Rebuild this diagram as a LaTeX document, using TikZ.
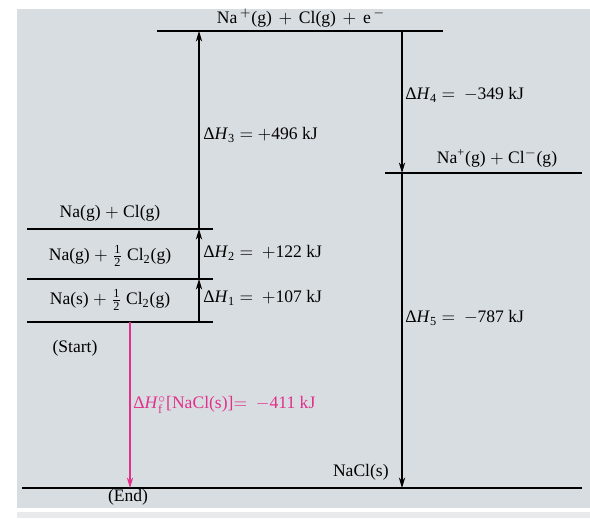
\documentclass[tikz,border=0pt]{standalone}
\usepackage{fontspec}
\setmainfont{Liberation Serif}
\usetikzlibrary{arrows.meta}
\definecolor{panelgray}{RGB}{216,221,226}
\definecolor{stripgray}{RGB}{233,234,236}
\definecolor{pinkline}{RGB}{226,48,138}
\newcommand{\dH}[1]{Δ\textit{H}$_{\mbox{\scriptsize #1}}$}
\newcommand{\half}{$\frac{\mbox{\scriptsize 1}}{\mbox{\scriptsize 2}}$}
\newcommand{\plus}{\ $+$\ }
\newcommand{\wideplus}{\hspace{0.38em}$+$\hspace{0.38em}}
\begin{document}
\begin{tikzpicture}[x=0.02cm, y=-0.02cm]
  \tikzset{
    level_line/.style={line width=0.7pt},
    step_arrow/.style={line width=0.6pt, -{Stealth[length=6pt, width=3.6pt]}},
    pink_arrow/.style={step_arrow, draw=pinkline},
    level_label/.style={inner sep=0pt, font=\fontsize{10pt}{12pt}\selectfont},
    dh_label/.style={level_label, anchor=west}
  }
  \useasboundingbox (0,0) rectangle (590,518);

  % Fondo
  \fill[panelgray] (17,9) rectangle (590,508);
  \fill[stripgray] (17,512) rectangle (590,518);

  % Niveles de energía
  \coordinate (top_l) at (157,31);  \coordinate (top_r) at (443,31);
  \coordinate (ion_l) at (385,173); \coordinate (ion_r) at (582,173);
  \coordinate (atom_l) at (27,229); \coordinate (atom_r) at (213,229);
  \coordinate (nag_l) at (27,279);  \coordinate (nag_r) at (213,279);
  \coordinate (nas_l) at (27,322);  \coordinate (nas_r) at (213,322);
  \coordinate (end_l) at (22,488);  \coordinate (end_r) at (582,488);
  \draw[level_line] (top_l) -- (top_r);
  \draw[level_line] (ion_l) -- (ion_r);
  \draw[level_line] (atom_l) -- (atom_r);
  \draw[level_line] (nag_l) -- (nag_r);
  \draw[level_line] (nas_l) -- (nas_r);
  \draw[level_line] (end_l) -- (end_r);

  % Etiquetas de los niveles
  \node[level_label] (top_txt) at (301,18) {Na$^{\,+}$(g)\wideplus Cl(g)\wideplus e$^{\,-}$};
  \node[level_label] (ion_txt) at (497,158) {Na$^{\mbox{\scriptsize +}}$(g)\plus Cl$^-$(g)};
  \node[level_label] (atom_txt) at (110,213) {Na(g)\plus Cl(g)};
  \node[level_label] (nag_txt) at (110,256) {Na(g)\plus\half\ Cl$_{\mbox{\scriptsize 2}}$(g)};
  \node[level_label] (nas_txt) at (110,300) {Na(s)\plus\half\ Cl$_{\mbox{\scriptsize 2}}$(g)};
  \node[level_label] (start_txt) at (75,348) {(Start)};
  \node[level_label] (end_txt) at (128,497) {(End)};
  \node[level_label, anchor=east] (nacl_txt) at (389,472) {NaCl(s)};

  % Puntos de las flechas
  \coordinate (a1_b) at (199,322); \coordinate (a1_t) at (199,279);
  \coordinate (a2_t) at (199,229); \coordinate (a3_t) at (199,31);
  \coordinate (a4_t) at (402,31);  \coordinate (a4_b) at (402,173);
  \coordinate (a5_b) at (402,488);
  \coordinate (af_t) at (130,322); \coordinate (af_b) at (130,488);

  % Flechas
  \draw[step_arrow] (a1_b) -- (a1_t);
  \draw[step_arrow] (a1_t) -- (a2_t);
  \draw[step_arrow] (a2_t) -- (a3_t);
  \draw[step_arrow] (a4_t) -- (a4_b);
  \draw[step_arrow] (a4_b) -- (a5_b);
  \draw[pink_arrow] (af_t) -- (af_b);

  % Valores de entalpía
  \node[dh_label] (dh1) at (203,298) {\dH{1} $=$ \ $+$107 kJ};
  \node[dh_label] (dh2) at (203,253) {\dH{2} $=$ \ $+$122 kJ};
  \node[dh_label] (dh3) at (203,135) {\dH{3} $=$ $+$496 kJ};
  \node[dh_label] (dh4) at (405,95) {\dH{4} $=$ \ $-$349 kJ};
  \node[dh_label] (dh5) at (405,318) {\dH{5} $=$ \ $-$787 kJ};
  \node[dh_label, text=pinkline] (dhf) at (133,405)
    {Δ\textit{H}$_{\mbox{\scriptsize f}}^{\circ}$[NaCl(s)]$=$ \ $-$411 kJ};
\end{tikzpicture}
\end{document}
